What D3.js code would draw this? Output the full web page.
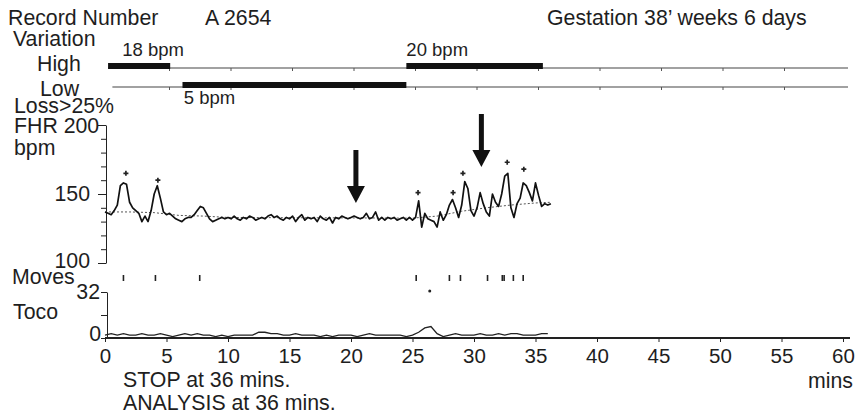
<!DOCTYPE html>
<html>
<head>
<meta charset="utf-8">
<script src="https://cdn.jsdelivr.net/npm/d3@7"></script>
<style>
  body { margin: 0; background: #fff; }
  svg { display: block; }
  text { font-family: Arial, "Liberation Sans", sans-serif; fill: #1e1e1e; }
  .axis path, .axis line { stroke: #222; }
</style>
</head>
<body>
<div class="drawing"></div>
<script>
// FHR trace, one value every 0.25 min from 0
var fhrStep = 0.25;
var fhr = [137,136,135,138,142,156,158,157,144,
  140,138,136,130,134,130,138,150,
  156,147,137,135,136,134,132,131,
  130,132,133,133,135,138,141,140,
  136,132,130,131,132,133,132,133,
  132,134,132,131,133,132,134,133,
  131,132,133,132,134,135,133,134,
  132,131,133,132,134,130,133,135,
  131,133,132,133,130,134,132,131,
  133,129,133,132,134,133,132,133,
  134,133,132,133,136,132,133,137,
  131,133,131,133,132,133,131,132,
  133,131,133,131,133,145,126,136,
  132,131,130,126,137,131,135,142,
  146,140,133,142,159,154,138,134,
  140,151,143,137,134,150,144,141,
  150,163,165,140,133,143,147,158,
  156,151,145,158,149,141,143,142,
  143];

// baseline estimate (dotted)
var baseTimes = [0, 2, 4, 6, 8, 10, 25, 27, 29, 31, 33, 35, 36.25];
var baseVals  = [137, 137, 136.5, 134.5, 134, 133, 132.5, 134, 137.5, 140, 142, 143.5, 144];

// acceleration markers
var accTimes = [1.7, 4.3, 25.45, 28.3, 29.1, 32.7, 34.05];
var accVals  = [165, 160, 151, 151, 165, 173, 168];

// arrows (time, bpm at tip)
var arrowTimes = [20.4, 30.6];
var arrowTips  = [143.5, 169.5];

// fetal movements
var moveTimes = [1.5, 4.1, 7.7, 25.3, 28.0, 28.9, 31.1, 32.3, 32.45, 33.2, 34.0];
var moveDots  = [26.4];

// toco, one value every 0.5 min
var tocoStep = 0.5;
var toco = [2,3,2,3,2,2,3,2,2,3,2,1,2,3,2,3,2,2,1,2,1,2,2,2,2,4,4,3,3,2,2,3,2,2,2,1,
  2,1,2,2,2,1,2,3,2,2,2,2,2,1,2,4,7,8,3,1,2,3,2,2,2,3,2,2,3,2,3,3,2,2,2,3,3];

// variation bars (minutes)
var highBars = [[0.25, 5.3], [24.5, 35.6]];
var lowBars  = [[6.3, 24.5]];
var highLabels = [{t: 1.4, text: "18 bpm"}, {t: 24.5, text: "20 bpm"}];
var lowLabels  = [{t: 6.4, text: "5 bpm"}];

var xTicks = d3.range(0, 61, 5);

var width = 857, height = 419, fs = 21.3;
var svg = d3.select(".drawing").append("svg")
    .attr("width", width)
    .attr("height", height);

var x = d3.scaleLinear().domain([0, 60]).range([105, 843]);
var yF = d3.scaleLinear().domain([100, 200]).range([263, 125]);
var yT = d3.scaleLinear().domain([0, 32]).range([338, 292]);

function label(txt, px, py, size, anchor) {
    svg.append("text")
	.attr("x", px).attr("y", py)
	.attr("font-size", size)
	.attr("text-anchor", anchor || "start")
	.text(txt);
}

// header
label("Record Number", 8, 25, fs);
label("A  2654", 205, 25, fs);
label("Gestation 38\u2019 weeks 6 days", 547, 25, fs);
label("Variation", 13, 46, fs);
label("High", 37, 71, fs);
label("Low", 40, 96, fs);
label("Loss>25%", 14, 113, fs);

// variation lines
var yHigh = 68, yLow = 87;
svg.append("line").attr("x1", x(0.25)).attr("x2", 848)
    .attr("y1", yHigh).attr("y2", yHigh).attr("stroke", "#444").attr("stroke-width", 1.2);
svg.append("line").attr("x1", x(0.6)).attr("x2", 848)
    .attr("y1", yLow).attr("y2", yLow).attr("stroke", "#444").attr("stroke-width", 1.2);
[yHigh, yLow].forEach(function(yy) {
    svg.selectAll(null).data(xTicks.slice(1, 12)).enter().append("line")
	.attr("x1", function(d) { return x(d) + 3; }).attr("x2", function(d) { return x(d) + 3; })
	.attr("y1", yy).attr("y2", yy + 3)
	.attr("stroke", "#555");
});
svg.selectAll(".hbar").data(highBars).enter().append("rect")
    .attr("class", "hbar")
    .attr("x", function(d) { return x(d[0]); })
    .attr("width", function(d) { return x(d[1]) - x(d[0]); })
    .attr("y", yHigh - 5).attr("height", 6)
    .attr("fill", "#111");
svg.selectAll(".lbar").data(lowBars).enter().append("rect")
    .attr("class", "lbar")
    .attr("x", function(d) { return x(d[0]); })
    .attr("width", function(d) { return x(d[1]) - x(d[0]); })
    .attr("y", yLow - 5).attr("height", 6)
    .attr("fill", "#111");
highLabels.forEach(function(d) { label(d.text, x(d.t), 56, 18.5); });
lowLabels.forEach(function(d) { label(d.text, x(d.t), 104, 18.5); });

// FHR axis
var fAxis = svg.append("g").attr("class", "axis")
    .attr("transform", "translate(" + 106 + ",0)")
    .call(d3.axisLeft(yF).tickValues(d3.range(100, 201, 10)).tickSize(5).tickSizeOuter(0).tickFormat(""));
fAxis.selectAll(".tick line").attr("x2", function(d) { return d % 50 == 0 ? -8 : -5; });
label("FHR 200", 14, 133, fs);
label("bpm", 14, 155, fs);
label("150", 90, yF(150) + 7, fs, "end");
label("100", 90, yF(100) + 5, fs, "end");

// baseline
var baseLine = d3.line().x(function(d, i) { return x(baseTimes[i]); }).y(function(d) { return yF(d); });
svg.append("path").attr("d", baseLine(baseVals))
    .attr("fill", "none").attr("stroke", "#555").attr("stroke-width", 1)
    .attr("stroke-dasharray", "2,2");

// FHR trace
var fhrLine = d3.line().x(function(d, i) { return x(i * fhrStep); }).y(function(d) { return yF(d); });
svg.append("path").attr("d", fhrLine(fhr))
    .attr("fill", "none").attr("stroke", "#111").attr("stroke-width", 1.7)
    .attr("stroke-linejoin", "round");

// acceleration markers
svg.selectAll(".acc").data(accVals).enter().append("path")
    .attr("class", "acc")
    .attr("transform", function(d, i) { return "translate(" + x(accTimes[i]) + "," + yF(d) + ")"; })
    .attr("d", d3.symbol().type(d3.symbolCross).size(14))
    .attr("fill", "#222");

// arrows
svg.selectAll(".arrow").data(arrowTips).enter().append("path")
    .attr("class", "arrow")
    .attr("d", function(d, i) {
	var cx = x(arrowTimes[i]), ty = yF(d);
	return "M" + (cx - 2.5) + "," + (ty - 53) + "L" + (cx + 2.5) + "," + (ty - 53) +
	    "L" + (cx + 2.5) + "," + (ty - 17) + "L" + (cx + 9) + "," + (ty - 17) +
	    "L" + cx + "," + ty + "L" + (cx - 9) + "," + (ty - 17) +
	    "L" + (cx - 2.5) + "," + (ty - 17) + "Z";
    })
    .attr("fill", "#111");

// moves
label("Moves", 12, 284, fs);
svg.selectAll(".move").data(moveTimes).enter().append("line")
    .attr("class", "move")
    .attr("x1", function(d) { return x(d); }).attr("x2", function(d) { return x(d); })
    .attr("y1", 275).attr("y2", 281)
    .attr("stroke", "#222").attr("stroke-width", 1.6);
svg.selectAll(".mdot").data(moveDots).enter().append("circle")
    .attr("class", "mdot")
    .attr("cx", function(d) { return x(d); }).attr("cy", 291).attr("r", 1.5)
    .attr("fill", "#222");

// toco axis
svg.append("g").attr("class", "axis")
    .attr("transform", "translate(" + 107 + ",0)")
    .call(d3.axisLeft(yT).tickValues([0, 16, 32]).tickSize(6).tickSizeOuter(0).tickFormat(""));
label("32", 100, yT(32) + 7, fs, "end");
label("Toco", 13, 319, fs);
label("0", 101, yT(0) + 3, fs, "end");

var tocoLine = d3.line().x(function(d, i) { return x(i * tocoStep); }).y(function(d) { return yT(d); });
svg.append("path").attr("d", tocoLine(toco))
    .attr("fill", "none").attr("stroke", "#222").attr("stroke-width", 1.3);

// time axis
var xAxis = svg.append("g").attr("class", "axis")
    .attr("transform", "translate(0," + 338 + ")")
    .call(d3.axisBottom(x).tickValues(xTicks).tickSize(4).tickSizeOuter(0).tickPadding(6));
xAxis.select(".domain").attr("stroke-width", 2.2).attr("d", "M" + x(0) + ",0H850");
xAxis.selectAll("text").attr("font-size", 20.5).attr("fill", "#1e1e1e")
    .attr("font-family", "Arial, 'Liberation Sans', sans-serif");
label("mins", 853, 388, fs, "end");
label("STOP at 36 mins.", 123, 387, fs);
label("ANALYSIS at 36 mins.", 123, 410, fs);
</script>
</body>
</html>
